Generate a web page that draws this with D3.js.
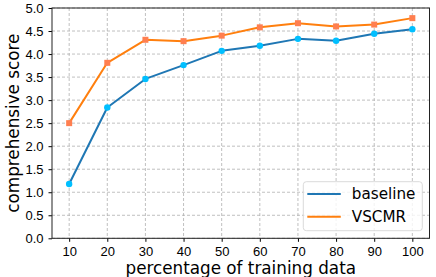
<!DOCTYPE html>
<html>
<head>
<meta charset="utf-8">
<script src="https://cdn.jsdelivr.net/npm/d3@7"></script>
<style>
  body { margin: 0; background: #fff; }
  svg { font-family: "DejaVu Sans", sans-serif; display: block; }
</style>
</head>
<body>
<svg id="chart" width="436" height="277"></svg>
<script>
const percents = [10, 20, 30, 40, 50, 60, 70, 80, 90, 100];
const baseline = [1.18, 2.84, 3.46, 3.76, 4.07, 4.18, 4.33, 4.29, 4.44, 4.54];
const vscmr = [2.50, 3.81, 4.31, 4.28, 4.40, 4.58, 4.67, 4.60, 4.64, 4.78];
const yTicks = [0, 0.5, 1, 1.5, 2, 2.5, 3, 3.5, 4, 4.5, 5];

const series = [
    {name: "baseline", values: baseline, line: "#1f77b4", marker: "#00bfff", shape: "circle"},
    {name: "VSCMR", values: vscmr, line: "#ff7f0e", marker: "#ff7f50", shape: "square"}
];

const width = 436, height = 277;
const marginTop = 8, marginRight = 6.5, marginBottom = 38.7, marginLeft = 52;

const svg = d3.select("#chart");

const x = d3.scaleLinear()
    .domain([5.5, 104.5])
    .range([marginLeft, width - marginRight]);

const y = d3.scaleLinear()
    .domain([0, 5])
    .range([height - marginBottom, marginTop]);

// grid
const grid = svg.append("g").attr("class", "grid");
grid.selectAll(".gx")
    .data(percents)
    .enter().append("line")
    .attr("x1", d => x(d)).attr("x2", d => x(d))
    .attr("y1", marginTop).attr("y2", height - marginBottom)
    .attr("stroke", "#b0b0b0").attr("stroke-width", 0.8)
    .attr("stroke-dasharray", "3,2");
grid.selectAll(".gy")
    .data(yTicks)
    .enter().append("line")
    .attr("x1", marginLeft).attr("x2", width - marginRight)
    .attr("y1", d => y(d)).attr("y2", d => y(d))
    .attr("stroke", "#b0b0b0").attr("stroke-width", 0.8)
    .attr("stroke-dasharray", "3,2");

// axes
const xAxis = d3.axisBottom(x).tickValues(percents).tickSize(3.5).tickPadding(5);
const yAxis = d3.axisLeft(y).tickValues(yTicks).tickFormat(d3.format(".1f")).tickSize(3.5).tickPadding(5);

svg.append("g")
    .attr("transform", `translate(0,${height - marginBottom})`)
    .call(xAxis)
    .call(g => g.select(".domain").remove())
    .call(g => g.selectAll("text").attr("font-size", 13).attr("fill", "#000"));

svg.append("g")
    .attr("transform", `translate(${marginLeft},0)`)
    .call(yAxis)
    .call(g => g.select(".domain").remove())
    .call(g => g.selectAll("text").attr("font-size", 13).attr("fill", "#000"));

// series
const line = d3.line()
    .x((d, i) => x(percents[i]))
    .y(d => y(d));

series.forEach(s => {
    svg.append("path")
        .datum(s.values)
        .attr("fill", "none")
        .attr("stroke", s.line)
        .attr("stroke-width", 2)
        .attr("stroke-linejoin", "round")
        .attr("d", line);

    if (s.shape === "circle") {
        svg.append("g").selectAll("circle")
            .data(s.values)
            .enter().append("circle")
            .attr("cx", (d, i) => x(percents[i]))
            .attr("cy", d => y(d))
            .attr("r", 3.2)
            .attr("fill", s.marker);
    } else {
        svg.append("g").selectAll("rect")
            .data(s.values)
            .enter().append("rect")
            .attr("x", (d, i) => x(percents[i]) - 3)
            .attr("y", d => y(d) - 3)
            .attr("width", 6).attr("height", 6)
            .attr("fill", s.marker);
    }
});

// frame
svg.append("rect")
    .attr("x", marginLeft).attr("y", marginTop)
    .attr("width", width - marginRight - marginLeft)
    .attr("height", height - marginBottom - marginTop)
    .attr("fill", "none").attr("stroke", "#222").attr("stroke-width", 1);

// axis labels
svg.append("text")
    .attr("x", (marginLeft + width - marginRight) / 2)
    .attr("y", 273.5)
    .attr("text-anchor", "middle")
    .attr("font-size", 16.8)
    .text("percentage of training data");

svg.append("text")
    .attr("transform", `translate(19,${(marginTop + height - marginBottom) / 2}) rotate(-90)`)
    .attr("text-anchor", "middle")
    .attr("font-size", 16.8)
    .text("comprehensive score");

// legend
const legend = svg.append("g").attr("transform", "translate(303.3,181.7)");
legend.append("rect")
    .attr("width", 119).attr("height", 49).attr("rx", 3)
    .attr("fill", "#fff").attr("fill-opacity", 0.8)
    .attr("stroke", "#d0d0d0").attr("stroke-width", 0.8);

series.forEach((s, i) => {
    const ly = 12.3 + i * 22.7;
    legend.append("line")
        .attr("x1", 4).attr("x2", 37.5)
        .attr("y1", ly).attr("y2", ly)
        .attr("stroke", s.line).attr("stroke-width", 2);
    legend.append("text")
        .attr("x", 48.5).attr("y", ly)
        .attr("dy", "0.35em")
        .attr("font-size", 15.2)
        .text(s.name);
});
</script>
</body>
</html>
